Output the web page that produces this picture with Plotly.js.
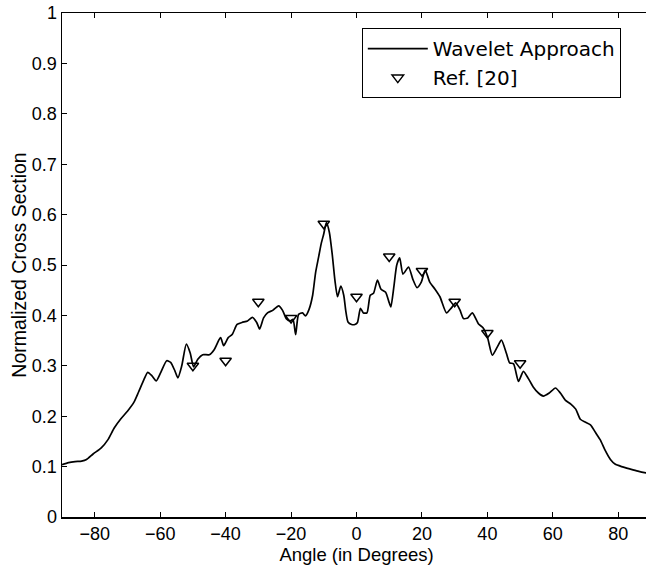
<!DOCTYPE html>
<html>
<head>
<meta charset="utf-8">
<script src="https://cdn.plot.ly/plotly-3.0.1.min.js"></script>
<style>
html, body { margin: 0; padding: 0; overflow: hidden; background: #fff; }
#chart { width: 651px; height: 571px; }
</style>
</head>
<body>
<div id="chart"></div>
<script>
// Wavelet approach curve (angle in degrees, normalized cross section)
const waveletAngle = [
  -90, -88, -86, -84, -82.5, -80.5, -78, -76, -74, -72, -70, -68, -66.6, -65, -63.8, -62.5, -61.2,
  -59.8, -58, -56.8, -55.5, -54.6, -53.4, -52, -50.8, -49.8, -48.5, -47, -45, -43.5, -42, -41.5,
  -40.6, -39.2, -38, -36.5, -35, -33.3, -31.8, -30.5, -29.6, -28.4, -27.2, -25.6, -23.8, -22.6,
  -21.4, -20.3, -19.4, -18.6, -17.7, -16.5, -15.6, -14.5, -13.4, -12.5, -11.6, -10.8, -10, -9.2,
  -8.3, -7.4, -6.6, -5.8, -4.8, -3.9, -3.3, -2.6, -1.5, -0.5, 0.3, 1.2, 2.1, 3.2, 4.2, 5.2, 6.4,
  7.5, 8.9, 10.0, 10.5, 11.4, 12.3, 13.2, 14.2, 15.9, 17.2, 18.5, 19.8, 21.0, 22.4, 24.0, 25.5,
  27.5, 29.0, 30.3, 31.6, 32.7, 34.0, 35.4, 37.3, 38.6, 40.0, 41.5, 43.0, 44.3, 45.8, 46.8, 48.0,
  49.5, 51.0, 52.5, 54.0, 55.6, 57.1, 58.9, 60.8, 62.3, 63.8, 65.5, 67.0, 68.4, 70.0, 71.5, 73.0,
  74.5, 76.0, 77.6, 79.0, 81.0, 83.7, 86.0, 88.0, 90.0
];
const waveletValue = [
  0.104, 0.108, 0.110, 0.111, 0.114, 0.125, 0.137, 0.153, 0.177, 0.195, 0.210, 0.228, 0.248, 0.272, 0.287, 0.280, 0.270,
  0.287, 0.310, 0.307, 0.290, 0.276, 0.300, 0.343, 0.325, 0.298, 0.313, 0.322, 0.322, 0.332, 0.352, 0.356,
  0.340, 0.356, 0.362, 0.382, 0.386, 0.389, 0.396, 0.386, 0.373, 0.395, 0.405, 0.410, 0.419, 0.410,
  0.393, 0.389, 0.392, 0.362, 0.402, 0.405, 0.399, 0.412, 0.440, 0.485, 0.515, 0.542, 0.562, 0.584,
  0.565, 0.520, 0.470, 0.437, 0.458, 0.440, 0.410, 0.387, 0.382, 0.382, 0.386, 0.414, 0.405, 0.405, 0.440, 0.444, 0.470,
  0.452, 0.446, 0.425, 0.417, 0.456, 0.500, 0.514, 0.482, 0.496, 0.472, 0.455, 0.466, 0.490, 0.466, 0.452, 0.437,
  0.405, 0.415, 0.425, 0.411, 0.394, 0.395, 0.405, 0.383, 0.376, 0.357, 0.321, 0.337, 0.351, 0.325, 0.306, 0.304,
  0.269, 0.289, 0.275, 0.258, 0.246, 0.240, 0.246, 0.256, 0.246, 0.232, 0.224, 0.214, 0.194, 0.188, 0.183, 0.168,
  0.153, 0.132, 0.114, 0.105, 0.100, 0.095, 0.091, 0.088, 0.086
];

// Ref. [20] points
const refAngle = [-50, -40, -30, -20, -10, 0, 10, 20, 30, 40, 50];
const refValue = [0.300, 0.310, 0.427, 0.395, 0.582, 0.437, 0.517, 0.488, 0.427, 0.365, 0.305];

const seriesNames = ["Wavelet Approach", "Ref. [20]"];
const xTitle = "Angle (in Degrees)";
const yTitle = "Normalized Cross Section";

const FONT = "Liberation Sans, Arial, Helvetica, sans-serif";
const LEGEND_FONT = "DejaVu Sans, Liberation Sans, sans-serif";

const traces = [
  {
    x: waveletAngle, y: waveletValue, type: "scatter", mode: "lines",
    name: seriesNames[0],
    line: { color: "#000", width: 1.7, shape: "spline", smoothing: 0.6 }
  },
  {
    x: refAngle, y: refValue, type: "scatter", mode: "markers",
    name: seriesNames[1],
    marker: { symbol: "triangle-down-open", size: 10, color: "#000", line: { width: 1.5, color: "#000" } }
  }
];

const layout = {
  width: 651, height: 571,
  margin: { l: 62, r: 0, t: 13, b: 54 },
  paper_bgcolor: "#fff", plot_bgcolor: "#fff",
  font: { family: FONT, color: "#000", size: 18 },
  showlegend: true,
  legend: {
    x: 0.509, y: 0.970, xanchor: "left", yanchor: "top",
    bordercolor: "#000", borderwidth: 1, bgcolor: "#fff",
    font: { family: LEGEND_FONT, size: 20, color: "#000" },
    itemwidth: 60
  },
  xaxis: {
    range: [-90, 90], tick0: 0, dtick: 20,
    showgrid: false, zeroline: false,
    showline: true, linecolor: "#000", linewidth: 1.5, mirror: "ticks",
    ticks: "inside", ticklen: 5, tickwidth: 1, tickcolor: "#000",
    tickfont: { family: FONT, size: 18, color: "#000" },
    title: { text: xTitle, font: { family: FONT, size: 18.5, color: "#000" }, standoff: 4 }
  },
  yaxis: {
    range: [0, 1], tick0: 0, dtick: 0.1,
    showgrid: false, zeroline: false,
    showline: true, linecolor: "#000", linewidth: 1.5, mirror: "ticks",
    ticks: "inside", ticklen: 5, tickwidth: 1, tickcolor: "#000",
    tickfont: { family: FONT, size: 18, color: "#000" },
    title: { text: yTitle, font: { family: FONT, size: 19.5, color: "#000" }, standoff: 0 }
  }
};

Plotly.newPlot("chart", traces, layout, { displayModeBar: false, staticPlot: true });
</script>
</body>
</html>
